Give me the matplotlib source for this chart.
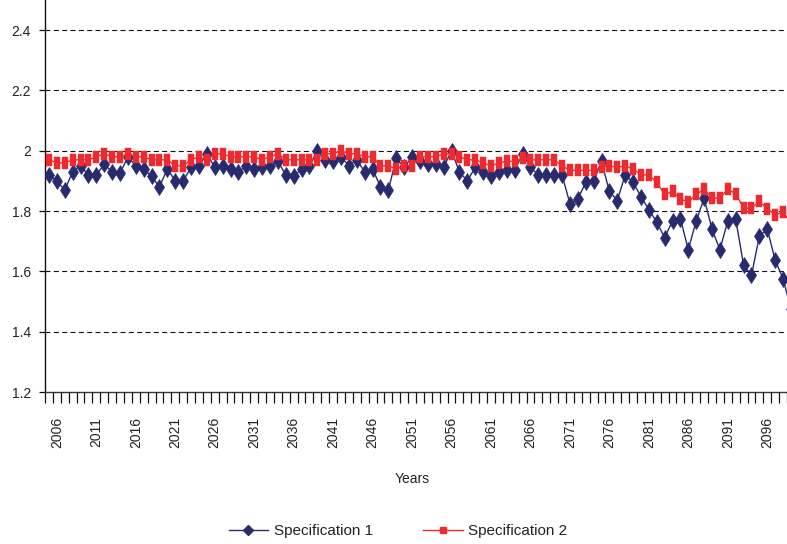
import matplotlib
matplotlib.use("Agg")
import matplotlib.pyplot as plt
from matplotlib.path import Path
from matplotlib.lines import Line2D
import numpy as np

years = list(range(2005, 2100))
spec1 = [1.92, 1.90, 1.87, 1.93, 1.95, 1.92, 1.92, 1.955, 1.93, 1.925,
         1.98, 1.95, 1.94, 1.915, 1.88, 1.94, 1.90, 1.90, 1.945, 1.95,
         1.99, 1.945, 1.95, 1.94, 1.93, 1.95, 1.94, 1.945, 1.95, 1.965,
         1.92, 1.915, 1.94, 1.95, 2.00, 1.97, 1.965, 1.98, 1.95, 1.97,
         1.93, 1.94, 1.88, 1.87, 1.975, 1.945, 1.98, 1.965, 1.955, 1.955,
         1.945, 2.00, 1.93, 1.90, 1.945, 1.93, 1.915, 1.93, 1.935, 1.935,
         1.99, 1.945, 1.92, 1.92, 1.92, 1.92, 1.825, 1.84, 1.895, 1.90,
         1.965, 1.865, 1.835, 1.92, 1.895, 1.848, 1.805, 1.763, 1.712, 1.768,
         1.774, 1.672, 1.768, 1.842, 1.74, 1.672, 1.768, 1.774, 1.621, 1.587,
         1.717, 1.74, 1.638, 1.576, 1.475]
spec2 = [1.97, 1.96, 1.96, 1.97, 1.97, 1.97, 1.98, 1.99, 1.98, 1.98,
         1.99, 1.98, 1.98, 1.97, 1.97, 1.97, 1.95, 1.95, 1.97, 1.98,
         1.97, 1.99, 1.99, 1.98, 1.98, 1.98, 1.98, 1.97, 1.98, 1.99,
         1.97, 1.97, 1.97, 1.97, 1.97, 1.99, 1.99, 2.00, 1.99, 1.99,
         1.98, 1.98, 1.95, 1.95, 1.94, 1.95, 1.95, 1.98, 1.98, 1.98,
         1.99, 1.99, 1.98, 1.97, 1.97, 1.96, 1.95, 1.96, 1.965, 1.965,
         1.975, 1.97, 1.97, 1.97, 1.97, 1.95, 1.935, 1.935, 1.935, 1.935,
         1.945, 1.95, 1.945, 1.95, 1.94, 1.92, 1.92, 1.895, 1.855, 1.865,
         1.84, 1.83, 1.855, 1.873, 1.843, 1.843, 1.873, 1.857, 1.81, 1.81,
         1.832, 1.808, 1.787, 1.797, 1.76]
series_names = ["Specification 1", "Specification 2"]
y_ticks = [1.2, 1.4, 1.6, 1.8, 2.0, 2.2, 2.4]
y_tick_labels = ["1.2", "1.4", "1.6", "1.8", "2", "2.2", "2.4"]

plt.rcParams['font.family'] = ['Liberation Sans', 'DejaVu Sans']

navy = '#282A6E'
red = '#EE2A2E'
textc = '#222222'

fig = plt.figure(figsize=(7.87, 5.44), dpi=100)
ax = fig.add_axes([45/787, 152/544, 742/787, 392/544])

x = np.arange(len(years))
rect = Path([(-0.26, -0.5), (0.26, -0.5), (0.26, 0.5), (-0.26, 0.5), (-0.26, -0.5)],
            [Path.MOVETO, Path.LINETO, Path.LINETO, Path.LINETO, Path.CLOSEPOLY])

ax.plot(x, spec1, color=navy, lw=1.0, marker='d', ms=8.6, mfc=navy, mec=navy, mew=0.5, zorder=3)
ax.plot(x, spec2, color=red, lw=1.0, marker=rect, ms=8.8, mfc=red, mec=red, mew=0.3, zorder=4)

ax.set_ylim(1.2, 2.5)
ax.set_xlim(-0.5, 93.45)

for v in y_ticks[1:]:
    ax.axhline(v, color='#111111', lw=0.8, dashes=(4.5, 3), zorder=1)

ax.set_yticks(y_ticks)
ax.set_yticklabels(y_tick_labels)
ax.tick_params(axis='y', length=4.5, width=0.9, pad=5.5, labelsize=10, labelcolor=textc, color='#111111')

lab_idx = [i for i in range(1, len(years), 5) if i <= 93]
ax.set_xticks(lab_idx)
ax.set_xticklabels([str(years[i]) for i in lab_idx], rotation=90, va='top', ha='center')
ax.set_xticks(np.arange(-0.5, 94.5, 1), minor=True)
ax.tick_params(axis='x', which='major', length=0, pad=18, labelsize=10, labelcolor=textc)
ax.tick_params(axis='x', which='minor', length=8, width=0.9, color='#111111')

for s in ['top', 'right']:
    ax.spines[s].set_visible(False)
ax.spines['left'].set_color('#111111')
ax.spines['left'].set_linewidth(1.0)
ax.spines['bottom'].set_color('#333333')
ax.spines['bottom'].set_linewidth(1.0)

fig.text(412/787, 1 - 479/544, 'Years', ha='center', va='center', fontsize=10, color=textc)

handles = [Line2D([], [], color=navy, lw=1.0, marker='D', ms=5.5, mfc=navy, mec=navy),
           Line2D([], [], color=red, lw=1.0, marker='s', ms=4, mfc=red, mec=red)]
fig.legend(handles, series_names, loc='center', bbox_to_anchor=(398/787, 1 - 531/544),
           ncol=2, frameon=False, fontsize=11, handlelength=2.6, handletextpad=0.35,
           columnspacing=3.3, labelcolor=textc)

fig.savefig('out.png', dpi=100)
